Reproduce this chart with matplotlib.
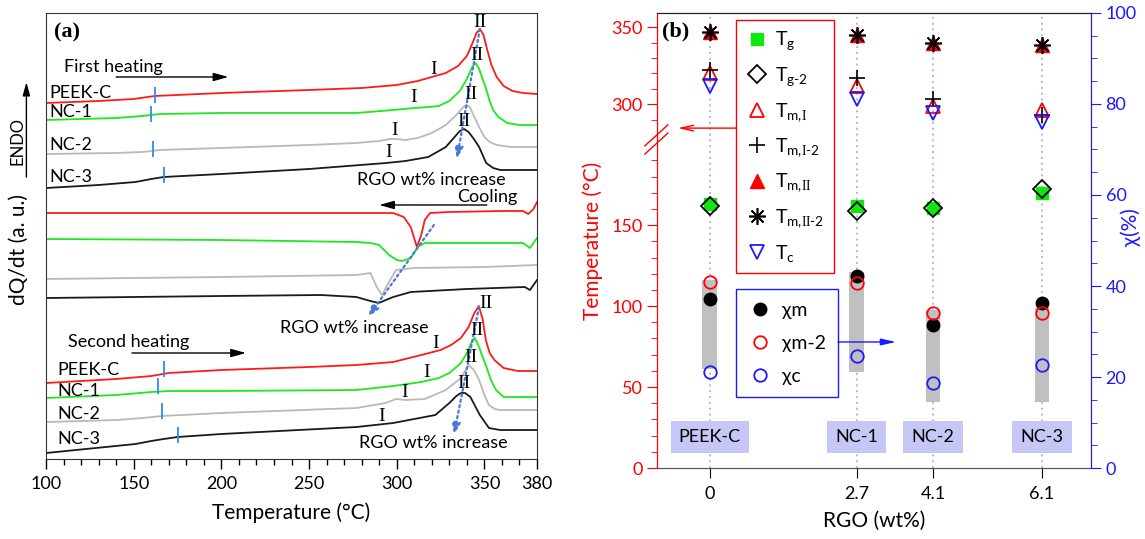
import numpy as np
import matplotlib
matplotlib.use('Agg')
import matplotlib.pyplot as plt
from matplotlib.ticker import FixedLocator, MultipleLocator
from matplotlib.transforms import blended_transform_factory

plt.rcParams['font.family'] = ['Lato', 'DejaVu Sans']
plt.rcParams['mathtext.fontset'] = 'custom'
plt.rcParams['mathtext.rm'] = 'Lato'
plt.rcParams['mathtext.it'] = 'Lato:italic'
plt.rcParams['mathtext.sf'] = 'Liberation Serif'

# ---------------- panel (a): DSC curves (a.u.) ----------------
# first heating
h1_peek_T = [100, 130, 150, 162, 200, 250, 280, 300, 312, 320, 328, 335, 340, 343, 345.5, 347.5, 349.5, 351.5, 354, 357, 361, 366, 372, 380]
h1_peek_s = [356, 358, 360, 363, 366, 369, 371, 374, 378, 382, 386, 393, 403, 415, 426, 430, 424, 410, 394, 382, 373, 368, 366, 365]
h1_nc1_T = [100, 140, 155, 165, 200, 250, 277, 298, 310, 318, 324, 330, 336, 340, 343, 345, 347, 349, 351, 353, 355, 358, 363, 370, 380]
h1_nc1_s = [339, 341, 343, 345, 346, 346, 346, 349, 351, 352, 353, 358, 368, 380, 392, 396, 390, 380, 370, 358, 349, 342, 336, 334, 334]
h1_nc2_T = [100, 140, 155, 165, 200, 250, 277, 290, 296, 300, 305, 312, 320, 328, 334, 338, 340, 342, 344, 347, 350, 353, 357, 365, 380]
h1_nc2_s = [305, 306, 307, 309, 311, 314, 316, 318, 320, 320, 319, 321, 326, 334, 344, 352, 354, 351, 343, 332, 322, 317, 314, 312, 312]
h1_nc3_T = [100, 130, 151, 160, 167, 200, 250, 294, 305, 318, 328, 333, 336, 338.4, 341, 344, 347, 351, 355, 359, 365, 380]
h1_nc3_s = [271, 274, 277, 280, 282, 285, 290, 296, 298, 302, 312, 322, 328, 330, 327, 320, 312, 296, 291, 289, 289, 289]
# cooling
c_peek_T = [100, 200, 290, 298, 304, 308, 311.5, 314, 316, 319, 330, 360, 372, 375, 378, 380]
c_peek_s = [246, 246, 246, 246, 242, 232, 212, 224, 239, 246, 247, 248, 248, 245, 250, 257]
c_nc1_T = [100, 200, 277, 285, 290, 295.6, 300, 303, 308, 312, 316, 330, 360, 372, 376, 380]
c_nc1_s = [220, 219, 217, 216, 214, 204, 199, 198, 201, 212, 216, 216, 216, 216, 211, 221]
c_nc2_T = [100, 200, 277, 285, 288.6, 291.6, 295.6, 299.6, 310, 350, 380]
c_nc2_s = [180, 182, 184, 186, 172, 164, 177, 189, 191, 192, 194]
c_nc3_T = [100, 200, 256.8, 277, 285, 289.7, 298, 308, 340, 373, 376, 380]
c_nc3_s = [161, 163, 164, 162, 158, 156, 162, 167, 170, 172, 169, 179]
# second heating
h2_peek_T = [100, 140, 160, 170, 200, 250, 277, 298, 314, 325, 331, 336.6, 341, 344, 346.8, 349, 350.8, 353, 355.7, 361, 369, 380]
h2_peek_s = [76, 80, 83, 86, 89, 92, 94, 97, 104, 109, 114, 121, 132, 145, 153, 140, 119, 106, 99, 91, 88, 88]
h2_nc1_T = [100, 140, 160, 170, 200, 277, 298, 314, 324, 330, 336.6, 340, 342.5, 344.6, 347, 349, 350.8, 353.7, 356.6, 361, 380]
h2_nc1_s = [61, 64, 67, 68, 68, 69, 73, 77, 81, 86, 96, 106, 116, 121, 112, 102, 94, 79, 69, 62, 62]
h2_nc2_T = [100, 140, 155, 166, 200, 277, 293.7, 299.6, 305, 316, 328, 336.6, 341, 344, 347, 350, 352.6, 356, 359, 380]
h2_nc2_s = [37, 39, 41, 43, 46, 51, 56, 60, 59, 60, 69, 81, 94, 89, 79, 64, 54, 50, 49, 49]
h2_nc3_T = [100, 151, 160, 167, 175, 200, 277, 298, 322, 330, 334, 336.6, 339, 342, 347.4, 352.6, 359, 380]
h2_nc3_s = [6, 15, 18, 20, 22, 25, 32, 36, 44, 56, 63, 66, 66, 62, 44, 31, 29, 29]

# glass transition marks
tg_h1_T = [162, 160, 161, 167.3]
tg_h1_s = [363.5, 344.5, 309.5, 284]
tg_h2_T = [167.3, 163.9, 166.1, 175]
tg_h2_s = [90.5, 73.5, 48, 24.5]

samples = ['PEEK-C', 'NC-1', 'NC-2', 'NC-3']
curve_colors = ['#ff1a1a', '#1ee81e', '#b9b9b9', '#1a1a1a']

# ---------------- panel (b) ----------------
rgo = [0, 2.7, 4.1, 6.1]
rgo_labels = ['0', '2.7', '4.1', '6.1']
Tg = [163, 161.5, 160.5, 170]
Tg2 = [162, 158.5, 160.5, 172]
Tm_I = [320, 311.7, 298.7, 296]
Tm_I2 = [322, 317, 303.3, 292.8]
Tm_II = [347, 345, 340, 338.5]
Tm_II2 = [346.7, 344.8, 339.6, 338.3]
Tc = [311.7, 303.3, 294.1, 288.3]
chi_m = [37.1, 42.2, 31.4, 36.2]
chi_m2 = [40.9, 40.6, 34.1, 34.1]
chi_c = [21.2, 24.6, 18.6, 22.6]
bar_lo = [21.8, 21.0, 14.6, 14.6]
bar_hi = [41.3, 43.0, 34.7, 35.1]


def tb(v):
    # broken temperature axis: upper part (>250) shifted down
    v = np.asarray(v, float)
    return np.where(v > 250, 224.7 + (v - 300) * 0.95, v)


fig = plt.figure(figsize=(11.45, 5.39), dpi=100)

# ======================= (a) =======================
ax1 = fig.add_axes([0.0402, 0.1484, 0.4288, 0.8275])
groups = [
    [(h1_peek_T, h1_peek_s), (h1_nc1_T, h1_nc1_s), (h1_nc2_T, h1_nc2_s), (h1_nc3_T, h1_nc3_s)],
    [(c_peek_T, c_peek_s), (c_nc1_T, c_nc1_s), (c_nc2_T, c_nc2_s), (c_nc3_T, c_nc3_s)],
    [(h2_peek_T, h2_peek_s), (h2_nc1_T, h2_nc1_s), (h2_nc2_T, h2_nc2_s), (h2_nc3_T, h2_nc3_s)],
]
for grp in groups:
    for (T, s), c in zip(grp, curve_colors):
        ax1.plot(T, s, color=c, lw=1.3)

tg_s1 = np.array(tg_h1_s)
tg_s2 = np.array(tg_h2_s)
ax1.vlines(tg_h1_T, tg_s1 - 8, tg_s1 + 8, color='#2b8cf0', lw=1.3)
ax1.vlines(tg_h2_T, tg_s2 - 8, tg_s2 + 8, color='#2b8cf0', lw=1.3)

ax1.set_xlim(100, 380)
ax1.set_ylim(0, 446)
ax1.set_yticks([])
ax1.xaxis.set_major_locator(FixedLocator([100, 150, 200, 250, 300, 350, 380]))
ax1.xaxis.set_minor_locator(FixedLocator([t for t in range(110, 380, 10) if t % 50]))
ax1.tick_params(axis='x', which='major', direction='out', length=7, width=1, labelsize=13, pad=5)
ax1.tick_params(axis='x', which='minor', direction='out', length=4, width=1)
for sp in ax1.spines.values():
    sp.set_color('#333333')
ax1.set_xlabel('Temperature (°C)', fontsize=15, labelpad=8)
ax1.set_ylabel('dQ/dt (a. u.)', fontsize=15)
ax1.yaxis.set_label_coords(-0.035, 0.47)

ax1.text(0.016, 0.957, '(a)', transform=ax1.transAxes, fontsize=16, fontweight='bold',
         family='Liberation Serif', va='center', ha='left')

# ENDO arrow
ax1.annotate('', xy=(-0.040, 0.845), xytext=(-0.040, 0.632), xycoords='axes fraction',
             arrowprops=dict(arrowstyle='-|>,head_length=0.8,head_width=0.22', color='black', lw=1,
                             shrinkA=0, shrinkB=0), annotation_clip=False)
ax1.text(-0.058, 0.713, 'ENDO', transform=ax1.transAxes, rotation=90, fontsize=12,
         ha='center', va='center')

txt = dict(fontsize=13, va='center')
# first heating annotations
ax1.text(110.3, 392, 'First heating', ha='left', **txt)
ax1.annotate('', xy=(204, 382), xytext=(140, 382),
             arrowprops=dict(arrowstyle='-|>,head_length=0.9,head_width=0.25', color='black', lw=1,
                             shrinkA=0, shrinkB=0))
for name, y in zip(samples, [366, 347, 314, 282]):
    ax1.text(101.7, y, name, ha='left', **txt)
ax1.text(320, 279, 'RGO wt% increase', ha='center', **txt)
# cooling
ax1.text(351.4, 262, 'Cooling', ha='center', **txt)
ax1.annotate('', xy=(290, 254), xytext=(351.4, 254),
             arrowprops=dict(arrowstyle='-|>,head_length=0.9,head_width=0.25', color='black', lw=1,
                             shrinkA=0, shrinkB=0))
ax1.text(276, 131, 'RGO wt% increase', ha='center', **txt)
# second heating
ax1.text(112.5, 117, 'Second heating', ha='left', **txt)
ax1.annotate('', xy=(214, 106), xytext=(149, 106),
             arrowprops=dict(arrowstyle='-|>,head_length=0.9,head_width=0.25', color='black', lw=1,
                             shrinkA=0, shrinkB=0))
for name, y in zip(samples, [89, 68, 45, 20]):
    ax1.text(106.3, y, name, ha='left', **txt)
ax1.text(321, 16, 'RGO wt% increase', ha='center', **txt)

# dotted trend arrows
dot_arrow = dict(arrowstyle='-|>,head_length=0.7,head_width=0.25', color='#4a78d8', lw=1.6,
                 ls=(0, (1, 1.5)), shrinkA=0, shrinkB=0)
ax1.annotate('', xy=(334.3, 300), xytext=(347.4, 430), arrowprops=dot_arrow)
ax1.annotate('', xy=(283.6, 142), xytext=(321.2, 234), arrowprops=dot_arrow)
ax1.annotate('', xy=(332.6, 24), xytext=(346.9, 152), arrowprops=dot_arrow)

# roman numeral peak labels
rom = dict(family='Liberation Serif', fontsize=14, ha='center', va='center')
for x, y in [(347.4, 436), (345.7, 403), (342.3, 364), (338.3, 337),
             (350.9, 156), (345.7, 129), (342.3, 102), (338.3, 76)]:
    ax1.text(x, y, 'II', **rom)
for x, y in [(321.2, 389), (309.8, 361), (299, 328), (295.6, 306),
             (322.3, 116), (317.2, 87), (304.7, 67), (291.6, 43)]:
    ax1.text(x, y, 'I', **rom)

# ======================= (b) =======================
ax2 = fig.add_axes([0.5738, 0.1317, 0.3790, 0.8442])
ax3 = ax2.twinx()
ax2.set_xlim(-0.97, 7.0)
ax2.set_ylim(0, 281)
ax3.set_ylim(0, 100)

for x in rgo:
    ax2.axvline(x, color='#b3b3f2', lw=1.4, ls=(0, (1, 2)), zorder=0)

h_tg, = ax2.plot(rgo, tb(Tg), ls='none', marker='s', ms=8, color='#11e611', mec='#11e611')
h_tg2, = ax2.plot(rgo, tb(Tg2), ls='none', marker='D', ms=9, mfc='none', mec='black', mew=1.3)
h_tmi, = ax2.plot(rgo, tb(Tm_I), ls='none', marker='^', ms=10, mfc='none', mec='red', mew=1.3)
h_tmi2, = ax2.plot(rgo, tb(Tm_I2), ls='none', marker='+', ms=12, color='black', mew=1.2)
h_tmii, = ax2.plot(rgo, tb(Tm_II), ls='none', marker='^', ms=10, color='red')
h_tmii2, = ax2.plot(rgo, tb(Tm_II2), ls='none', marker=(8, 2, 0), ms=12, color='black', mew=1.2)
h_tc, = ax2.plot(rgo, tb(Tc), ls='none', marker='v', ms=10, mfc='none', mec='#1a1aff', mew=1.3)

ax3.bar(rgo, np.array(bar_hi) - np.array(bar_lo), bottom=bar_lo, width=0.27, color='#c0c0c0', zorder=1)
h_cm, = ax3.plot(rgo, chi_m, ls='none', marker='o', ms=9, color='black', zorder=3)
h_cm2, = ax3.plot(rgo, chi_m2, ls='none', marker='o', ms=9, mfc='none', mec='red', mew=1.3, zorder=3)
h_cc, = ax3.plot(rgo, chi_c, ls='none', marker='o', ms=9, mfc='none', mec='#1a1aff', mew=1.3, zorder=3)

# left (broken) axis ticks
major_T = [0, 50, 100, 150, 300, 350]
minor_T = [t for t in range(10, 200, 10) if t % 50] + [290, 310, 320, 330, 340]
ax2.yaxis.set_major_locator(FixedLocator(tb(major_T)))
ax2.set_yticklabels([str(t) for t in major_T])
ax2.yaxis.set_minor_locator(FixedLocator(tb(minor_T)))
ax2.tick_params(axis='y', which='major', direction='out', length=7, color='red', labelcolor='red', labelsize=13)
ax2.tick_params(axis='y', which='minor', direction='out', length=4, color='red')
ax2.set_xticks(rgo)
ax2.set_xticklabels(rgo_labels)
ax2.tick_params(axis='x', direction='out', length=7, labelsize=13, pad=6)
ax2.set_xlabel('RGO (wt%)', fontsize=15, labelpad=6)
ax2.set_ylabel('Temperature (°C)', fontsize=15, color='red', labelpad=6)

ax3.yaxis.set_major_locator(MultipleLocator(20))
ax3.yaxis.set_minor_locator(MultipleLocator(5))
ax3.tick_params(axis='y', which='major', direction='out', length=7, color='#1a1aff', labelcolor='#1a1aff', labelsize=13)
ax3.tick_params(axis='y', which='minor', direction='out', length=4, color='#1a1aff')
ax3.set_ylabel('χ(%)', fontsize=15, color='#1a1aff')
ax3.yaxis.set_label_coords(1.068, 0.53)

for a in (ax2, ax3):
    a.spines['left'].set_color('red')
    a.spines['right'].set_color('#1a1aff')
    a.spines['bottom'].set_color('#555555')
    a.spines['top'].set_color('#222222')

# axis break marks
for dy in (0.0, -0.018):
    ax2.plot([-0.028, 0.025], [0.708 + dy, 0.754 + dy], transform=ax2.transAxes, color='red',
             lw=1.0, clip_on=False)

ax2.text(0.012, 0.959, '(b)', transform=ax2.transAxes, fontsize=16, fontweight='bold',
         family='Liberation Serif', va='center', ha='left')

leg1 = ax2.legend([h_tg, h_tg2, h_tmi, h_tmi2, h_tmii, h_tmii2, h_tc],
                  [r'T$_{\mathrm{g}}$', r'T$_{\mathrm{g\text{-}2}}$', r'T$_{\mathrm{m{,}}\mathsf{I}}$',
                   r'T$_{\mathrm{m{,}}\mathsf{I}\mathrm{\text{-}2}}$', r'T$_{\mathrm{m{,}}\mathsf{II}}$',
                   r'T$_{\mathrm{m{,}}\mathsf{II}\mathrm{\text{-}2}}$', r'T$_{\mathrm{c}}$'],
                  loc='upper left', bbox_to_anchor=(0.182, 0.985), borderaxespad=0,
                  fontsize=14, labelspacing=0.66, handletextpad=0.3, handlelength=1.2,
                  borderpad=0.5, fancybox=False, framealpha=1, edgecolor='red')
leg1.get_frame().set_linewidth(1.0)

leg2 = ax3.legend([h_cm, h_cm2, h_cc], ['χm', 'χm-2', 'χc'],
                  loc='upper left', bbox_to_anchor=(0.182, 0.393), borderaxespad=0,
                  fontsize=14, labelspacing=0.82, handletextpad=0.5, handlelength=1.2,
                  borderpad=0.65, fancybox=False, framealpha=1, edgecolor='#1a1aff')
leg2.get_frame().set_linewidth(1.0)
leg2.set_zorder(5)

# arrows from legends to their axes
ax2.annotate('', xy=(0.048, 0.747), xytext=(0.182, 0.747), xycoords='axes fraction',
             arrowprops=dict(arrowstyle='->,head_length=0.9,head_width=0.2', color='red', lw=1,
                             shrinkA=0, shrinkB=0))
ax3.annotate('', xy=(0.551, 0.277), xytext=(0.417, 0.277), xycoords='axes fraction',
             arrowprops=dict(arrowstyle='-|>,head_length=0.9,head_width=0.2', color='#1a1aff', lw=1,
                             shrinkA=0, shrinkB=0), zorder=6)

# sample name boxes
trans = blended_transform_factory(ax3.transData, ax3.transAxes)
for x, name in zip(rgo, samples):
    ax3.text(x, 0.068, name, transform=trans, ha='center', va='center', fontsize=13, zorder=4,
             bbox=dict(boxstyle='square,pad=0.45', fc='#c6c6f7', ec='none'))

fig.savefig('out.png', dpi=100)
